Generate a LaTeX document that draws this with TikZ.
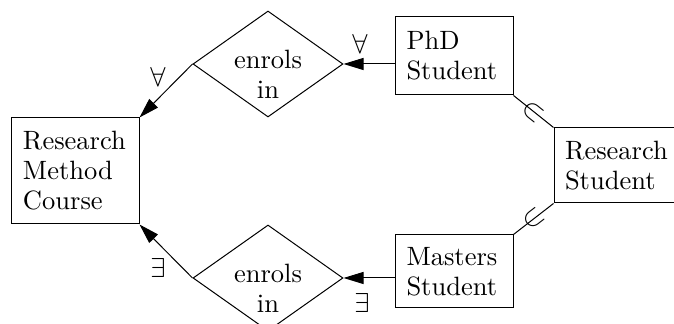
\documentclass[tikz,border=0pt]{standalone}
\usetikzlibrary{shapes.geometric,arrows.meta}
\begin{document}
\begin{tikzpicture}[x=0.4pt,y=-0.4pt,
  every node/.style={font=\fontsize{10.6pt}{12pt}\selectfont},
  entity/.style={draw,rectangle,inner xsep=4.4pt,inner ysep=0pt,align=left},
  rel/.style={draw,diamond,inner sep=0pt,minimum width=60pt,minimum height=42.4pt},
  arr/.style={-{Triangle[length=8pt,width=4.8pt]}},
  quant/.style={inner sep=0pt}]
\useasboundingbox (0,0) rectangle (674,324);
\clip (0,0) rectangle (674,324);
\node[entity,text width=42pt,minimum width=50.8pt,minimum height=42.4pt] (rmc) at (75.5,171) {Research\\Method\\Course};
\node[entity,text width=38.2pt,minimum width=47pt,minimum height=31.2pt] (phd) at (454.25,56) {PhD\\Student};
\node[entity,text width=38.2pt,minimum width=47pt,minimum height=29.2pt] (ms) at (454.25,271.5) {Masters\\Student};
\node[entity,text width=42pt,minimum width=50.8pt,minimum height=30pt] (rs) at (617.5,165.5) {Research\\Student};
\node[rel] (r1) at (268,64) {};
\node[rel] (r2) at (268,278) {};
\node[align=center,inner sep=0pt] (t1) at (268,74) {enrols\\in};
\node[align=center,inner sep=0pt] (t2) at (268,288) {enrols\\in};
\draw[arr] (phd.west |- r1.east) -- (r1.east);
\draw[arr] (ms.west |- r2.east) -- (r2.east);
\draw[arr] (r1.west) -- (rmc.north east);
\draw[arr] (r2.west) -- (rmc.south east);
\draw (phd.south east) -- node[sloped,inner sep=0pt] {$\subset$} (rs.north west);
\draw (ms.north east) -- node[sloped,inner sep=0pt] {$\subset$} (rs.south west);
\node[quant] (q1) at (158,77) {$\forall$};
\node[quant] (q2) at (158,268) {$\exists$};
\node[quant] (q3) at (360,44) {$\forall$};
\node[quant] (q4) at (362,303) {$\exists$};
\end{tikzpicture}
\end{document}
